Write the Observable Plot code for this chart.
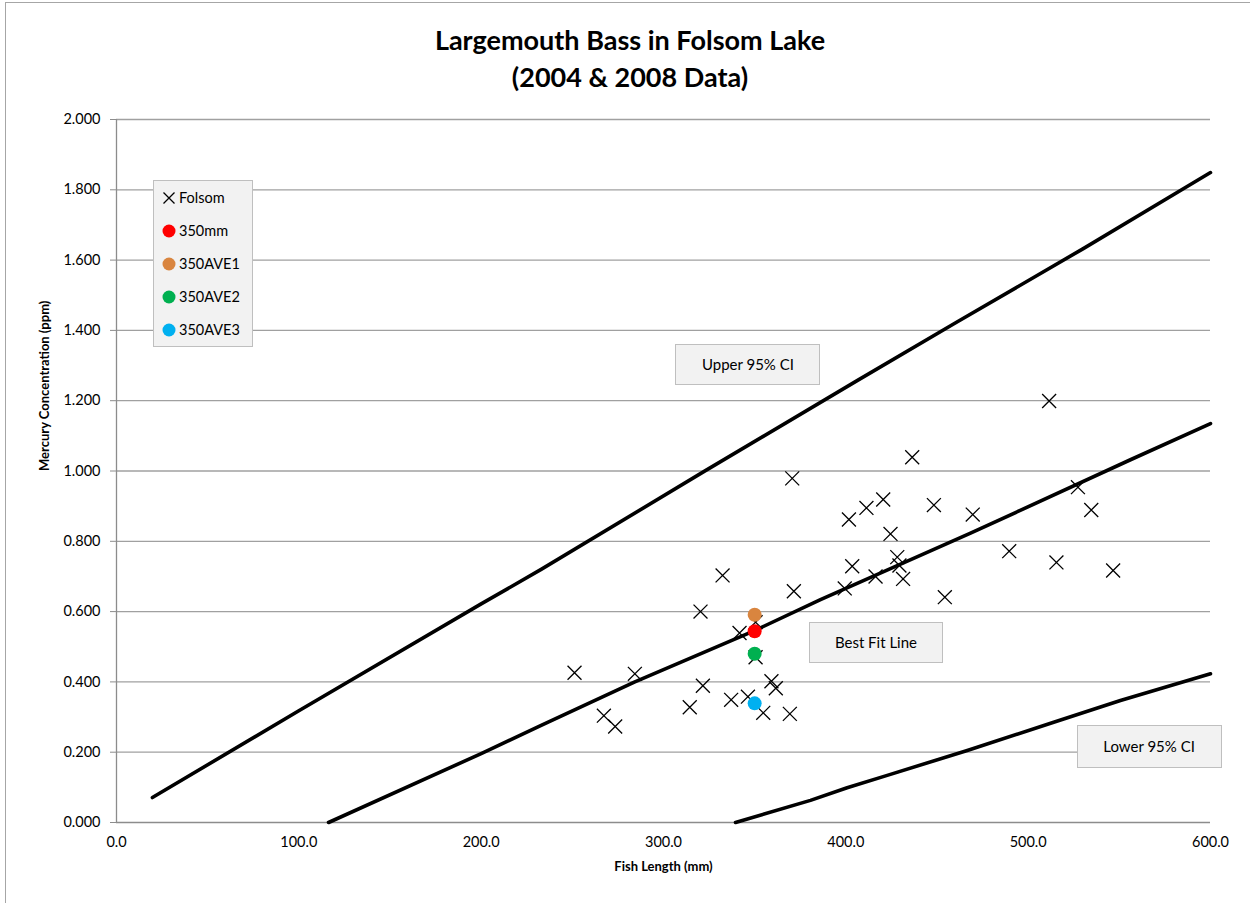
<!DOCTYPE html>
<html>
<head>
<meta charset="utf-8">
<script src="https://cdn.jsdelivr.net/npm/d3@7"></script>
<script src="https://cdn.jsdelivr.net/npm/@observablehq/plot@0.6"></script>
<style>
  html, body { margin: 0; padding: 0; background: #fff; }
  #wrap { position: relative; width: 1250px; height: 903px; overflow: hidden; font-family: Lato, "Open Sans", sans-serif; }
  #frame { position: absolute; left: 5px; top: 2px; width: 1300px; height: 1000px; border-left: 1px solid #a6a6a6; border-top: 1px solid #a6a6a6; }
  #title { position: absolute; left: 0; top: 0; width: 1260px; height: 100px; text-align: center; font-weight: 700; font-size: 27px; line-height: 37px; padding-top: 21px; box-sizing: border-box; color: #000; }
  #chart { position: absolute; left: 0; top: 100px; }
  .box { position: absolute; background: #f2f2f2; border: 1px solid #bfbfbf; box-sizing: border-box; font-size: 15px; color: #000; }
  .lab { display: flex; align-items: center; justify-content: center; }
  .leg-row { position: absolute; left: 8px; display: flex; align-items: center; font-size: 14.5px; }
  .leg-row svg { margin-right: 3px; }
</style>
</head>
<body>
<div id="wrap">
  <div id="frame"></div>
  <div id="title">Largemouth Bass in Folsom Lake<br>(2004 &amp; 2008 Data)</div>
  <div id="chart"></div>
</div>
<script>
// Folsom observations: fish length (mm) and mercury (ppm)
const folsomLength = [251.2, 267.3, 273.5, 284.3, 314.4, 320.3, 321.6, 332.4, 337.1, 341.7, 346.3, 350.5, 350.5, 354.7, 359.2, 361.6, 369.3, 370.6, 371.5, 399.4, 401.7, 403.5, 411.3, 416.3, 420.5, 424.5, 428.2, 429.4, 431.4, 436.4, 448.3, 454.3, 469.6, 489.6, 511.5, 515.5, 527.3, 534.6, 546.6];
const folsomHg     = [0.426, 0.304, 0.273, 0.423, 0.328, 0.600, 0.389, 0.703, 0.349, 0.539, 0.358, 0.570, 0.470, 0.312, 0.402, 0.382, 0.309, 0.979, 0.658, 0.666, 0.862, 0.729, 0.895, 0.700, 0.919, 0.821, 0.755, 0.731, 0.693, 1.039, 0.903, 0.641, 0.876, 0.772, 1.199, 0.740, 0.954, 0.889, 0.717];

// 350 mm reference estimates
const refNames  = ["350mm", "350AVE1", "350AVE2", "350AVE3"];
const refLength = [350, 350, 350, 350];
const refHg     = [0.544, 0.591, 0.480, 0.339];
const refColors = ["#ff0000", "#d9853f", "#00b050", "#00b0f0"];

// Best fit line and 95% CI lines
const fitLength   = [116.3, 200, 232.9, 284.3, 350, 386.1, 468.4, 556.1, 600];
const fitHg       = [0, 0.196, 0.276, 0.400, 0.546, 0.634, 0.823, 1.032, 1.135];
const upperLength = [19.7, 100, 200, 232.9, 323, 406.2, 460, 530, 600];
const upperHg     = [0.071, 0.318, 0.622, 0.720, 1.001, 1.257, 1.421, 1.632, 1.849];
const lowerLength = [339.5, 380.6, 400.7, 422.7, 466.6, 514, 550.6, 600];
const lowerHg     = [0, 0.063, 0.099, 0.134, 0.205, 0.285, 0.347, 0.423];

// Axis ticks
const xTicks = [0, 100, 200, 300, 400, 500, 600];
const yTicks = [0, 0.2, 0.4, 0.6, 0.8, 1.0, 1.2, 1.4, 1.6, 1.8, 2.0];

const folsom = folsomLength.map((x, i) => ({x, y: folsomHg[i]}));
const refs = refNames.map((name, i) => ({name, x: refLength[i], y: refHg[i], color: refColors[i]}));
const mk = (xs, ys) => xs.map((x, i) => ({x, y: ys[i]}));
const lines = [mk(upperLength, upperHg), mk(fitLength, fitHg), mk(lowerLength, lowerHg)];

const font = "Lato, 'Open Sans', sans-serif";
const plot = Plot.plot({
  width: 1250,
  height: 803,
  marginTop: 19,
  marginBottom: 81,
  marginLeft: 116,
  marginRight: 40,
  style: {fontFamily: font, fontSize: "14.5px", color: "#000", background: "transparent", overflow: "visible"},
  x: {domain: [0, 600]},
  y: {domain: [0, 2]},
  marks: [
    Plot.ruleY(yTicks.filter(d => d > 0), {stroke: "#a0a0a0", strokeWidth: 1.3}),
    Plot.ruleY([0], {stroke: "#8c8c8c", strokeWidth: 1.6}),
    Plot.ruleX([0], {stroke: "#8c8c8c", strokeWidth: 1.3}),
    Plot.axisY({ticks: yTicks, tickSize: 6, tickPadding: 10, tickFormat: d3.format(".3f"), stroke: "#8c8c8c", label: null, fill: "#000"}),
    Plot.axisX({ticks: xTicks, tickSize: 0, tickPadding: 14, tickFormat: d3.format(".1f"), label: null, fill: "#000"}),
    ...lines.map(l => Plot.line(l, {x: "x", y: "y", stroke: "#000", strokeWidth: 3.6, curve: "linear"})),
    Plot.dot(folsom, {x: "x", y: "y", symbol: "times", r: 6.4, stroke: "#000", strokeWidth: 1.3}),
    Plot.dot(refs, {x: "x", y: "y", r: 7, fill: "color", stroke: null}),
    Plot.text(["Mercury Concentration (ppm)"], {frameAnchor: "left", dx: -72, rotate: -90, fontWeight: 700, fontSize: 13, fill: "#000"}),
    Plot.text(["Fish Length (mm)"], {frameAnchor: "bottom", dy: 48, fontWeight: 700, fontSize: 13, fill: "#000"})
  ]
});
document.getElementById("chart").appendChild(plot);

// Overlays positioned via the plot's own scales
const sx = plot.scale("x"), sy = plot.scale("y");
const wrap = document.getElementById("wrap");
const top0 = 100;
function labelBox(text, cx, cy, w, h) {
  const d = document.createElement("div");
  d.className = "box lab";
  d.textContent = text;
  d.style.left = (sx.apply(cx) - w / 2) + "px";
  d.style.top = (top0 + sy.apply(cy) - h / 2) + "px";
  d.style.width = w + "px";
  d.style.height = h + "px";
  wrap.appendChild(d);
}
labelBox("Upper 95% CI", 346.6, 1.302, 145, 41);
labelBox("Best Fit Line", 416.8, 0.511, 134, 41);
labelBox("Lower 95% CI", 566.6, 0.215, 145, 43);

// Legend
const leg = document.createElement("div");
leg.className = "box";
leg.style.left = "153px"; leg.style.top = "180px"; leg.style.width = "100px"; leg.style.height = "167px";
const entries = [{name: "Folsom", kind: "x", color: "#000"}, ...refs.map(r => ({name: r.name, kind: "o", color: r.color}))];
entries.forEach((e, i) => {
  const row = document.createElement("div");
  row.className = "leg-row";
  row.style.top = (8 + i * 33) + "px";
  const icon = e.kind === "x"
    ? `<svg width="14" height="14"><path d="M1.5,1.5L12.5,12.5M12.5,1.5L1.5,12.5" stroke="#000" stroke-width="1.3"/></svg>`
    : `<svg width="14" height="14"><circle cx="7" cy="7" r="6.5" fill="${e.color}"/></svg>`;
  row.innerHTML = icon + `<span>${e.name}</span>`;
  leg.appendChild(row);
});
wrap.appendChild(leg);
</script>
</body>
</html>
